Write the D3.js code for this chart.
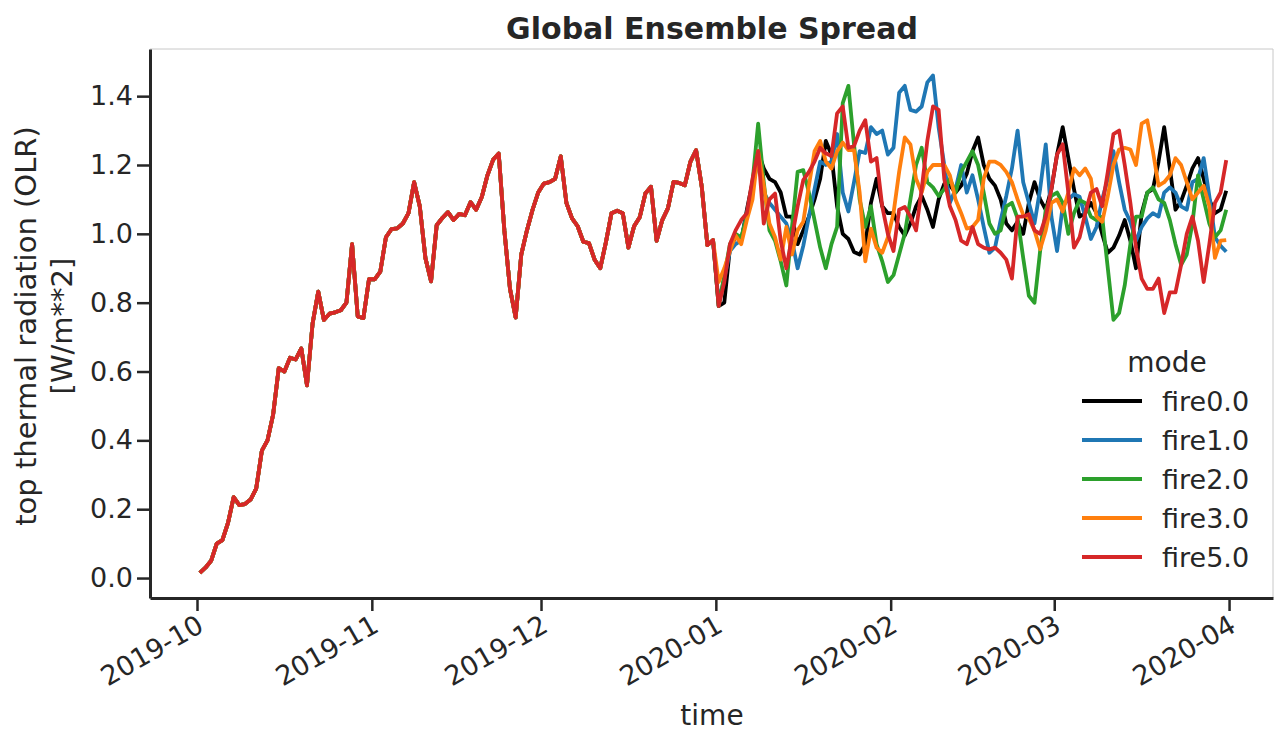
<!DOCTYPE html>
<html>
<head>
<meta charset="utf-8">
<script src="https://cdn.jsdelivr.net/npm/d3@7"></script>
<style>
  body { margin: 0; background: #fff; }
  svg text { font-family: "DejaVu Sans", sans-serif; fill: #262626; }
</style>
</head>
<body>
<svg id="chart" width="1275" height="731"></svg>
<script>
// shared part, daily means from 2019-10-01 to 2019-12-31
const commonVals = [
  0.015, 0.03, 0.05, 0.10, 0.11, 0.16, 0.235, 0.212, 0.215, 0.228,
  0.26, 0.37, 0.40, 0.475, 0.61, 0.60, 0.64, 0.635, 0.667, 0.56,
  0.74, 0.832, 0.75, 0.768, 0.772, 0.778, 0.80, 0.97, 0.76, 0.755,
  0.868, 0.868, 0.89, 0.99, 1.014, 1.016, 1.03, 1.06, 1.15, 1.08,
  0.93, 0.862, 1.025, 1.046, 1.063, 1.04, 1.058, 1.054, 1.092, 1.07,
  1.107, 1.17, 1.215, 1.233, 1.01, 0.84, 0.757, 0.94, 1.01, 1.07,
  1.12, 1.146, 1.15, 1.16, 1.225, 1.09, 1.045, 1.022, 0.977, 0.973,
  0.925, 0.90, 0.975, 1.06, 1.067, 1.06, 0.96, 1.022, 1.048, 1.117,
  1.137, 0.98, 1.04, 1.074, 1.151, 1.148, 1.141, 1.21, 1.243, 1.137,
  0.967, 0.982
];

// ensemble members, daily means from 2020-01-01 to 2020-03-31
const fire0 = [
  0.79, 0.80, 0.96, 0.99, 0.98, 1.07, 1.15, 1.24, 1.19, 1.16,
  1.15, 1.12, 1.05, 1.05, 0.97, 1.01, 1.05, 1.10, 1.16, 1.27,
  1.23, 1.08, 1.00, 0.985, 0.947, 0.94, 0.97, 1.09, 1.16, 1.08,
  1.06, 1.06, 1.02, 0.995, 1.03, 1.08, 1.11, 1.07, 1.02, 1.10,
  1.145, 1.14, 1.12, 1.14, 1.175, 1.24, 1.28, 1.20, 1.16, 1.14,
  1.10, 1.03, 1.01, 1.035, 1.00, 1.09, 1.15, 1.10, 1.07, 1.13,
  1.23, 1.31, 1.22, 1.13, 1.05, 1.06, 1.09, 1.06, 1.00, 0.945,
  0.96, 0.995, 1.04, 0.98, 0.90, 1.06, 1.12, 1.13, 1.21, 1.31,
  1.19, 1.07, 1.095, 1.14, 1.19, 1.22, 1.16, 1.10, 1.06, 1.07,
  1.125
];
const fire1 = [
  0.80, 0.87, 0.95, 0.97, 0.98, 1.06, 1.14, 1.21, 1.12, 1.09,
  1.07, 1.05, 1.03, 0.98, 0.90, 0.965, 1.05, 1.13, 1.21, 1.20,
  1.21, 1.29, 1.12, 1.065, 1.15, 1.24, 1.235, 1.31, 1.29, 1.30,
  1.23, 1.25, 1.41, 1.43, 1.36, 1.355, 1.37, 1.44, 1.46, 1.31,
  1.20, 1.09, 1.13, 1.20, 1.12, 1.17, 1.10, 1.02, 0.945, 0.96,
  1.04, 1.11, 1.19, 1.30, 1.15, 1.09, 1.03, 1.13, 1.26, 1.05,
  0.95, 1.08, 1.10, 1.115, 1.108, 1.05, 0.985, 1.02, 1.10, 1.16,
  1.24, 1.15, 1.07, 1.035, 0.98, 1.02, 1.045, 1.06, 1.05, 1.12,
  1.135, 1.12, 1.08, 1.07, 1.15, 1.16, 1.22, 1.11, 0.99, 0.965,
  0.948
];
const fire2 = [
  0.79, 0.88, 0.97, 1.00, 0.99, 1.05, 1.15, 1.32, 1.15, 1.01,
  0.98, 0.92, 0.85, 1.02, 1.18, 1.185, 1.12, 1.04, 0.96, 0.90,
  0.97, 1.02, 1.38, 1.43, 1.26, 1.10, 1.02, 1.08, 0.97, 0.92,
  0.86, 0.88, 0.94, 1.00, 1.10, 1.20, 1.25, 1.15, 1.135, 1.11,
  1.13, 1.16, 1.12, 1.18, 1.21, 1.24, 1.20, 1.12, 1.03, 1.00,
  1.01, 1.08, 1.09, 1.045, 0.93, 0.82, 0.80, 0.95, 1.07, 1.11,
  1.12, 1.09, 1.00, 1.06, 1.098, 1.09, 1.05, 1.04, 1.05, 0.90,
  0.75, 0.77, 0.85, 0.97, 1.05, 1.05, 1.12, 1.135, 1.10, 1.09,
  1.04, 0.97, 0.91, 0.94, 1.03, 1.17, 1.10, 1.03, 0.99, 1.01,
  1.07
];
const fire3 = [
  0.86, 0.90, 0.95, 0.995, 0.97, 1.04, 1.10, 1.24, 1.14, 1.03,
  0.99, 0.925, 1.02, 0.94, 1.01, 1.035, 1.14, 1.24, 1.27, 1.21,
  1.19, 1.24, 1.265, 1.243, 1.243, 1.12, 0.92, 1.015, 0.96, 0.945,
  0.99, 1.06, 1.18, 1.28, 1.26, 1.16, 1.12, 1.18, 1.20, 1.20,
  1.20, 1.17, 1.10, 1.06, 1.015, 1.02, 1.04, 1.16, 1.21, 1.21,
  1.20, 1.18, 1.15, 1.10, 1.055, 1.045, 1.01, 0.955, 1.01, 1.09,
  1.10, 1.065, 1.12, 1.19, 1.17, 1.19, 1.16, 1.05, 1.035, 1.11,
  1.20, 1.245, 1.25, 1.245, 1.20, 1.32, 1.33, 1.24, 1.14, 1.15,
  1.17, 1.22, 1.20, 1.15, 1.10, 1.12, 1.14, 1.08, 0.93, 0.98,
  0.982
];
const fire5 = [
  0.79, 0.86, 0.97, 1.01, 1.04, 1.06, 1.16, 1.24, 1.03, 1.10,
  1.117, 0.98, 0.90, 0.99, 1.08, 1.156, 1.18, 1.21, 1.25, 1.234,
  1.226, 1.35, 1.37, 1.25, 1.255, 1.30, 1.33, 1.21, 1.22, 1.08,
  1.00, 0.95, 1.07, 1.078, 1.05, 1.01, 1.13, 1.27, 1.37, 1.36,
  1.16, 1.08, 1.04, 0.98, 0.97, 1.02, 0.97, 0.96, 0.955, 0.96,
  0.945, 0.925, 0.87, 1.05, 1.05, 1.057, 1.01, 1.00, 1.05, 1.13,
  1.23, 1.26, 1.12, 0.96, 0.99, 1.06, 1.12, 1.13, 1.08, 1.18,
  1.29, 1.30, 1.20, 1.09, 0.96, 0.87, 0.84, 0.84, 0.87, 0.77,
  0.83, 0.83, 0.91, 1.00, 1.05, 0.98, 0.86, 0.97, 1.09, 1.12,
  1.214
];

const modes = ["fire0.0", "fire1.0", "fire2.0", "fire3.0", "fire5.0"];
const modeVals = [fire0, fire1, fire2, fire3, fire5];
const modeColors = ["#000000", "#1f77b4", "#2ca02c", "#ff7f0e", "#d62728"];
const yTicks = [0, 0.2, 0.4, 0.6, 0.8, 1.0, 1.2, 1.4];

const commonStart = new Date(Date.UTC(2019, 9, 1, 12));
const splitStart = new Date(Date.UTC(2020, 0, 1, 12));

const series = modes.map((m, i) => {
  const pts = commonVals.map((v, k) => ({ t: d3.utcDay.offset(commonStart, k), v: v }));
  modeVals[i].forEach((v, k) => pts.push({ t: d3.utcDay.offset(splitStart, k), v: v }));
  return { name: m, color: modeColors[i], pts: pts };
});

const svg = d3.select("#chart");
const plotL = 150, plotR = 1273, plotT = 49, plotB = 598;

// padded like matplotlib's default margins
const x = d3.scaleUtc()
  .domain([new Date(Date.UTC(2019, 8, 22, 16)), new Date(Date.UTC(2020, 3, 8, 19))])
  .range([plotL, plotR]);
const y = d3.scaleLinear()
  .domain([-0.058, 1.537])
  .range([plotB, plotT]);

// faint top/right frame
svg.append("path")
  .attr("d", `M${plotL},${plotT}H${plotR}V${plotB}`)
  .attr("fill", "none")
  .attr("stroke", "#c8c8c8")
  .attr("stroke-width", 1);

const line = d3.line().x(d => x(d.t)).y(d => y(d.v));

svg.append("g")
  .selectAll("path")
  .data(series)
  .enter()
  .append("path")
  .attr("d", d => line(d.pts))
  .attr("fill", "none")
  .attr("stroke", d => d.color)
  .attr("stroke-width", 3.8)
  .attr("stroke-linejoin", "round")
  .attr("stroke-linecap", "butt");

// x axis
const xAxis = svg.append("g")
  .attr("transform", `translate(0,${plotB})`)
  .call(d3.axisBottom(x)
    .ticks(d3.utcMonth.every(1))
    .tickFormat(d3.utcFormat("%Y-%m"))
    .tickSize(13)
    .tickSizeOuter(0));
xAxis.select(".domain").attr("stroke", "#262626").attr("stroke-width", 3);
xAxis.selectAll(".tick line").attr("stroke", "#262626").attr("stroke-width", 2.5);
xAxis.selectAll(".tick text")
  .attr("font-size", 27)
  .attr("text-anchor", "end")
  .attr("dy", null)
  .attr("y", null)
  .attr("transform", "translate(-2,15) rotate(-30)")
  .attr("dominant-baseline", "hanging");

// y axis
const yAxis = svg.append("g")
  .attr("transform", `translate(${plotL},0)`)
  .call(d3.axisLeft(y)
    .tickValues(yTicks)
    .tickFormat(d3.format(".1f"))
    .tickSize(13)
    .tickSizeOuter(0)
    .tickPadding(4));
yAxis.select(".domain").attr("stroke", "#262626").attr("stroke-width", 3);
yAxis.selectAll(".tick line").attr("stroke", "#262626").attr("stroke-width", 2.5);
yAxis.selectAll(".tick text").attr("font-size", 27);
svg.selectAll(".tick text").attr("fill", "#262626");

// labels
svg.append("text")
  .attr("x", 712).attr("y", 39)
  .attr("text-anchor", "middle")
  .attr("font-size", 30)
  .attr("font-weight", "bold")
  .text("Global Ensemble Spread");

svg.append("text")
  .attr("x", 712).attr("y", 725)
  .attr("text-anchor", "middle")
  .attr("font-size", 28)
  .text("time");

const yl = svg.append("text")
  .attr("transform", "translate(0,326) rotate(-90)")
  .attr("text-anchor", "middle")
  .attr("font-size", 29);
yl.append("tspan").attr("x", 0).attr("y", 36).text("top thermal radiation (OLR)");
yl.append("tspan").attr("x", 0).attr("y", 72).text("[W/m**2]");

// legend
const leg = svg.append("g");
leg.append("text")
  .attr("x", 1167).attr("y", 372)
  .attr("text-anchor", "middle")
  .attr("font-size", 28)
  .text("mode");

const item = leg.selectAll(".item")
  .data(series)
  .enter()
  .append("g")
  .attr("transform", (d, i) => `translate(0,${401 + i * 39})`);
item.append("line")
  .attr("x1", 1082).attr("x2", 1142)
  .attr("stroke", d => d.color)
  .attr("stroke-width", 4);
item.append("text")
  .attr("x", 1162).attr("y", 10)
  .attr("font-size", 27)
  .text(d => d.name);
</script>
</body>
</html>
